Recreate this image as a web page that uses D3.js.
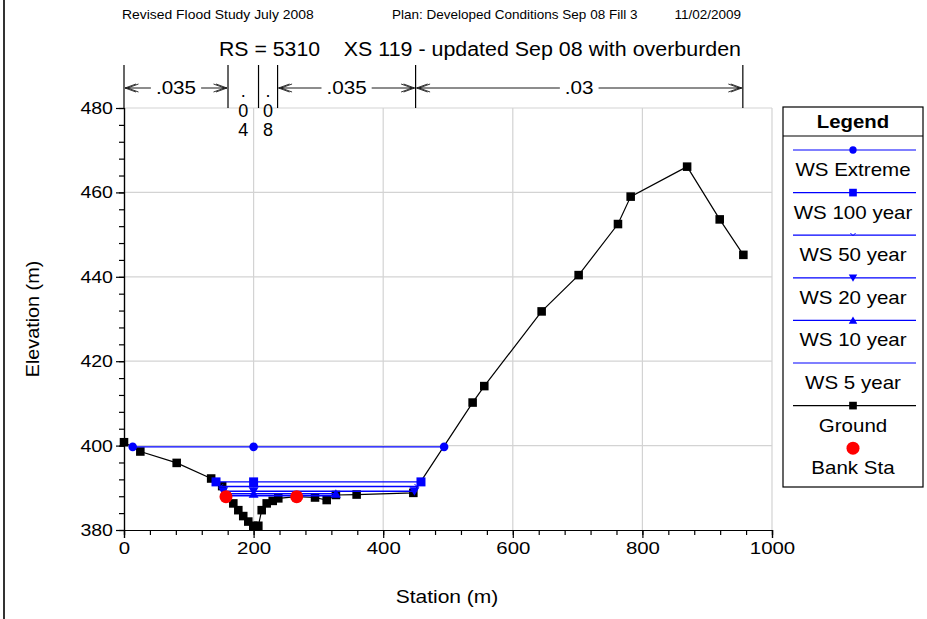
<!DOCTYPE html>
<html>
<head>
<meta charset="utf-8">
<script src="https://cdn.jsdelivr.net/npm/d3@7"></script>
<style>
  html, body { margin: 0; padding: 0; background: #fff; }
  svg { display: block; font-family: Arial, "Liberation Sans", sans-serif; }
</style>
</head>
<body>
<svg id="chart" width="927" height="619"></svg>
<script>
// Ground profile (station m, elevation m)
const groundStation = [0, 25.2, 81.3, 134.5, 151.5, 157.4, 168.7, 176.4, 184.0, 191.8, 199.5, 207.3, 212.5, 220.2, 229.5, 238.1, 266.5, 294.8, 312.8, 327.0, 359.0, 446.5, 538.0, 556.0, 644.5, 701.6, 762.3, 781.9, 869.0, 919.3, 955.8];
const groundElev    = [400.8, 398.6, 395.9, 392.2, 390.4, 387.9, 386.3, 384.7, 383.3, 382.0, 381.0, 381.0, 384.7, 386.3, 386.9, 387.5, 387.9, 387.7, 387.1, 388.3, 388.4, 388.8, 410.2, 414.1, 431.8, 440.4, 452.5, 459.0, 466.1, 453.6, 445.2];

// Bank stations
const bankStation = [157.4, 266.5];
const bankElev    = [387.9, 387.9];

// Water surface profiles
const wsNames  = ["WS Extreme", "WS 100 year", "WS 50 year", "WS 20 year", "WS 10 year", "WS 5 year"];
const wsElev   = [399.7, 391.4, 390.3, 389.2, 388.6, 388.1];
const wsLeft   = [13.4, 142.0, 148.5, 153.0, 155.5, 156.9];
const wsRight  = [494.0, 458.3, 453.0, 448.2, 327.0, 324.6];
const wsSymbol = ["circle", "square", "chevron", "triangleDown", "triangleUp", "none"];

// Manning's n regions
const nBreaks = [0, 160.5, 207.6, 237.0, 450.0, 955.0];
const nValues = [".035", ".04", ".08", ".035", ".03"];

// Axis ticks
const xTicks = [0, 200, 400, 600, 800, 1000];
const yTicks = [380, 400, 420, 440, 460, 480];

const headerLeft  = "Revised Flood Study July 2008";
const headerPlan  = "Plan: Developed Conditions Sep 08 Fill 3";
const headerDate  = "11/02/2009";
const titleRS     = "RS = 5310";
const titleXS     = "XS 119 - updated Sep 08 with overburden";

const svg = d3.select("#chart");
const blue = "#0000ff";
const FONT = "Arial, 'Liberation Sans', sans-serif";

// widen glyphs horizontally by a factor, keeping the text height
function widen(sel, factor) {
  sel.each(function () {
    const w = this.getComputedTextLength();
    d3.select(this).attr("textLength", w * factor).attr("lengthAdjust", "spacingAndGlyphs");
  });
  return sel;
}

const x = d3.scaleLinear().domain([0, 1000]).range([124, 772]);
const y = d3.scaleLinear().domain([380, 480]).range([530, 108]);

// page frame on the left
svg.append("line").attr("x1", 4).attr("x2", 4).attr("y1", 0).attr("y2", 619)
  .attr("stroke", "#333").attr("stroke-width", 2);

// header
const hdr = svg.append("g").attr("font-size", 13.5).attr("fill", "#000");
widen(hdr.append("text").attr("x", 122).attr("y", 19).text(headerLeft), 1.03);
hdr.append("text").attr("x", 392).attr("y", 19).text(headerPlan);
hdr.append("text").attr("x", 741).attr("y", 19).attr("text-anchor", "end").text(headerDate);

const ttl = svg.append("g").attr("font-size", 19.5);
widen(ttl.append("text").attr("x", 219).attr("y", 55.5).text(titleRS), 1.09);
widen(ttl.append("text").attr("x", 741).attr("y", 55.5).attr("text-anchor", "end").text(titleXS), 1.098);

// grid
const grid = svg.append("g").attr("stroke", "#d3d3d3").attr("stroke-width", 1.2);
xTicks.slice(1).forEach(v => grid.append("line")
  .attr("x1", x(v)).attr("x2", x(v)).attr("y1", y(380)).attr("y2", y(480)));
yTicks.slice(1).forEach(v => grid.append("line")
  .attr("x1", x(0)).attr("x2", x(1000)).attr("y1", y(v)).attr("y2", y(v)));

// axes
const xMinor = d3.range(0, 1001, 40);
const yMinor = d3.range(380, 481, 4);
const xAxisMinor = d3.axisBottom(x).tickValues(xMinor).tickSize(5).tickFormat("");
const xAxis = d3.axisBottom(x).tickValues(xTicks).tickSize(8).tickPadding(4).tickFormat(d3.format("d"));
const yAxisMinor = d3.axisLeft(y).tickValues(yMinor).tickSize(5).tickFormat("");
const yAxis = d3.axisLeft(y).tickValues(yTicks).tickSize(8).tickPadding(3).tickFormat(d3.format("d"));

function styleAxis(g) {
  g.selectAll("path").attr("stroke", "#000").attr("stroke-width", 1.2);
  g.selectAll("line").attr("stroke", "#000").attr("stroke-width", 1.2);
  g.selectAll("text").attr("font-size", 17).attr("fill", "#000").attr("font-family", FONT);
}
svg.append("g").attr("transform", `translate(0,${y(380)})`).call(xAxisMinor).call(styleAxis);
const gx = svg.append("g").attr("transform", `translate(0,${y(380)})`).call(xAxis).call(styleAxis);
svg.append("g").attr("transform", `translate(${x(0)},0)`).call(yAxisMinor).call(styleAxis);
const gy = svg.append("g").attr("transform", `translate(${x(0)},0)`).call(yAxis).call(styleAxis);
widen(gx.selectAll("text"), 1.2);
widen(gy.selectAll("text"), 1.15);

widen(svg.append("text").attr("x", 447).attr("y", 603).attr("text-anchor", "middle")
  .attr("font-size", 17.5).text("Station (m)"), 1.2);
widen(svg.append("text").attr("transform", "translate(39,319) rotate(-90)").attr("text-anchor", "middle")
  .attr("font-size", 17.5).text("Elevation (m)"), 1.13);

// Manning's n annotations
const nG = svg.append("g");
const nTop = 65, nBottom = y(480), nArrowY = 88;
nBreaks.forEach(b => nG.append("line").attr("x1", x(b)).attr("x2", x(b))
  .attr("y1", nTop).attr("y2", nBottom).attr("stroke", "#000").attr("stroke-width", 1.2));
nValues.forEach((v, i) => {
  const x0 = x(nBreaks[i]), x1 = x(nBreaks[i + 1]), xm = (x0 + x1) / 2;
  if (x1 - x0 > 70) {
    const t = widen(nG.append("text").attr("x", xm).attr("y", nArrowY + 6).attr("text-anchor", "middle")
      .attr("font-size", 17.5).text(v), 1.18);
    const tw = +t.attr("textLength") + 6;
    const ends = [[x0 + 1, xm - tw / 2 - 2, -1], [xm + tw / 2 + 2, x1 - 1, 1]];
    ends.forEach(([a, b, dir]) => {
      nG.append("line").attr("x1", a).attr("x2", b).attr("y1", nArrowY).attr("y2", nArrowY)
        .attr("stroke", "#000").attr("stroke-width", 0.9);
      const tip = dir < 0 ? a : b;
      const back = dir < 0 ? tip + 11 : tip - 11;
      [0, 2.5].forEach(off => {
        const tt = tip - dir * off, bk = back - dir * off;
        nG.append("path").attr("d", `M${bk},${nArrowY - 4}L${tt},${nArrowY}L${bk},${nArrowY + 4}`)
          .attr("fill", "none").attr("stroke", "#000").attr("stroke-width", 0.8);
      });
    });
  } else {
    v.split("").forEach((ch, k) => nG.append("text").attr("x", xm).attr("y", 97 + k * 19.5)
      .attr("text-anchor", "middle").attr("font-size", 18).text(ch));
  }
});

// symbol drawing
function drawSymbol(g, type, cx, cy, color, s) {
  s = s || 1;
  if (type === "circle") g.append("circle").attr("cx", cx).attr("cy", cy).attr("r", 4.3 * s).attr("fill", color);
  else if (type === "square") g.append("rect").attr("x", cx - 4.5 * s).attr("y", cy - 4.5 * s)
    .attr("width", 9 * s).attr("height", 9 * s).attr("fill", color);
  else if (type === "triangleDown") g.append("path")
    .attr("d", `M${cx - 5 * s},${cy - 4 * s}L${cx + 5 * s},${cy - 4 * s}L${cx},${cy + 4.5 * s}Z`).attr("fill", color);
  else if (type === "triangleUp") g.append("path")
    .attr("d", `M${cx - 5 * s},${cy + 4 * s}L${cx + 5 * s},${cy + 4 * s}L${cx},${cy - 4.5 * s}Z`).attr("fill", color);
  else if (type === "chevron") g.append("path")
    .attr("d", `M${cx - 3 * s},${cy - 2.5 * s}L${cx},${cy + 0.5 * s}L${cx + 3 * s},${cy - 2.5 * s}`)
    .attr("fill", "none").attr("stroke", color).attr("stroke-width", 1);
}

// water surfaces
const wsG = svg.append("g");
wsNames.forEach((n, i) => {
  wsG.append("line").attr("x1", x(wsLeft[i])).attr("x2", x(wsRight[i]))
    .attr("y1", y(wsElev[i])).attr("y2", y(wsElev[i]))
    .attr("stroke", blue).attr("stroke-width", 1.4);
});

// ground
const line = d3.line().x((d, i) => x(groundStation[i])).y(d => y(d));
svg.append("path").datum(groundElev).attr("d", line)
  .attr("fill", "none").attr("stroke", "#000").attr("stroke-width", 1.2);
groundElev.forEach((e, i) => drawSymbol(svg, "square", x(groundStation[i]), y(e), "#000", 0.95));

// water surface markers: line ends and station 200
wsNames.forEach((n, i) => {
  if (wsSymbol[i] === "none") return;
  [wsLeft[i], 200, wsRight[i]].forEach(st => drawSymbol(wsG, wsSymbol[i], x(st), y(wsElev[i]), blue));
});
wsG.raise();

// bank stations
bankStation.forEach((b, i) => svg.append("circle").attr("cx", x(b)).attr("cy", y(bankElev[i]))
  .attr("r", 6.5).attr("fill", "#ff0000"));

// legend
const lg = svg.append("g");
const lx0 = 783, lx1 = 923, lcx = (lx0 + lx1) / 2;
lg.append("rect").attr("x", lx0).attr("y", 107).attr("width", lx1 - lx0).attr("height", 380)
  .attr("fill", "#fff").attr("stroke", "#000").attr("stroke-width", 1.2);
lg.append("line").attr("x1", lx0).attr("x2", lx1).attr("y1", 136).attr("y2", 136)
  .attr("stroke", "#000").attr("stroke-width", 1.2);
widen(lg.append("text").attr("x", lcx).attr("y", 128).attr("text-anchor", "middle")
  .attr("font-size", 18.5).attr("font-weight", "bold").text("Legend"), 1.1);

const legendNames = wsNames.concat(["Ground", "Bank Sta"]);
legendNames.forEach((n, i) => {
  const ly = 150 + i * 42.6;
  if (i < wsNames.length) {
    lg.append("line").attr("x1", 793).attr("x2", 916).attr("y1", ly).attr("y2", ly)
      .attr("stroke", blue).attr("stroke-width", 1.2);
    drawSymbol(lg, wsSymbol[i], lcx, ly, blue, 0.85);
  } else if (n === "Ground") {
    lg.append("line").attr("x1", 793).attr("x2", 916).attr("y1", ly).attr("y2", ly)
      .attr("stroke", "#000").attr("stroke-width", 1.2);
    drawSymbol(lg, "square", lcx, ly, "#000", 0.85);
  } else {
    lg.append("circle").attr("cx", lcx).attr("cy", ly).attr("r", 6.5).attr("fill", "#ff0000");
  }
  widen(lg.append("text").attr("x", lcx).attr("y", ly + 26).attr("text-anchor", "middle")
    .attr("font-size", 19).text(n), 1.08);
});
</script>
</body>
</html>
